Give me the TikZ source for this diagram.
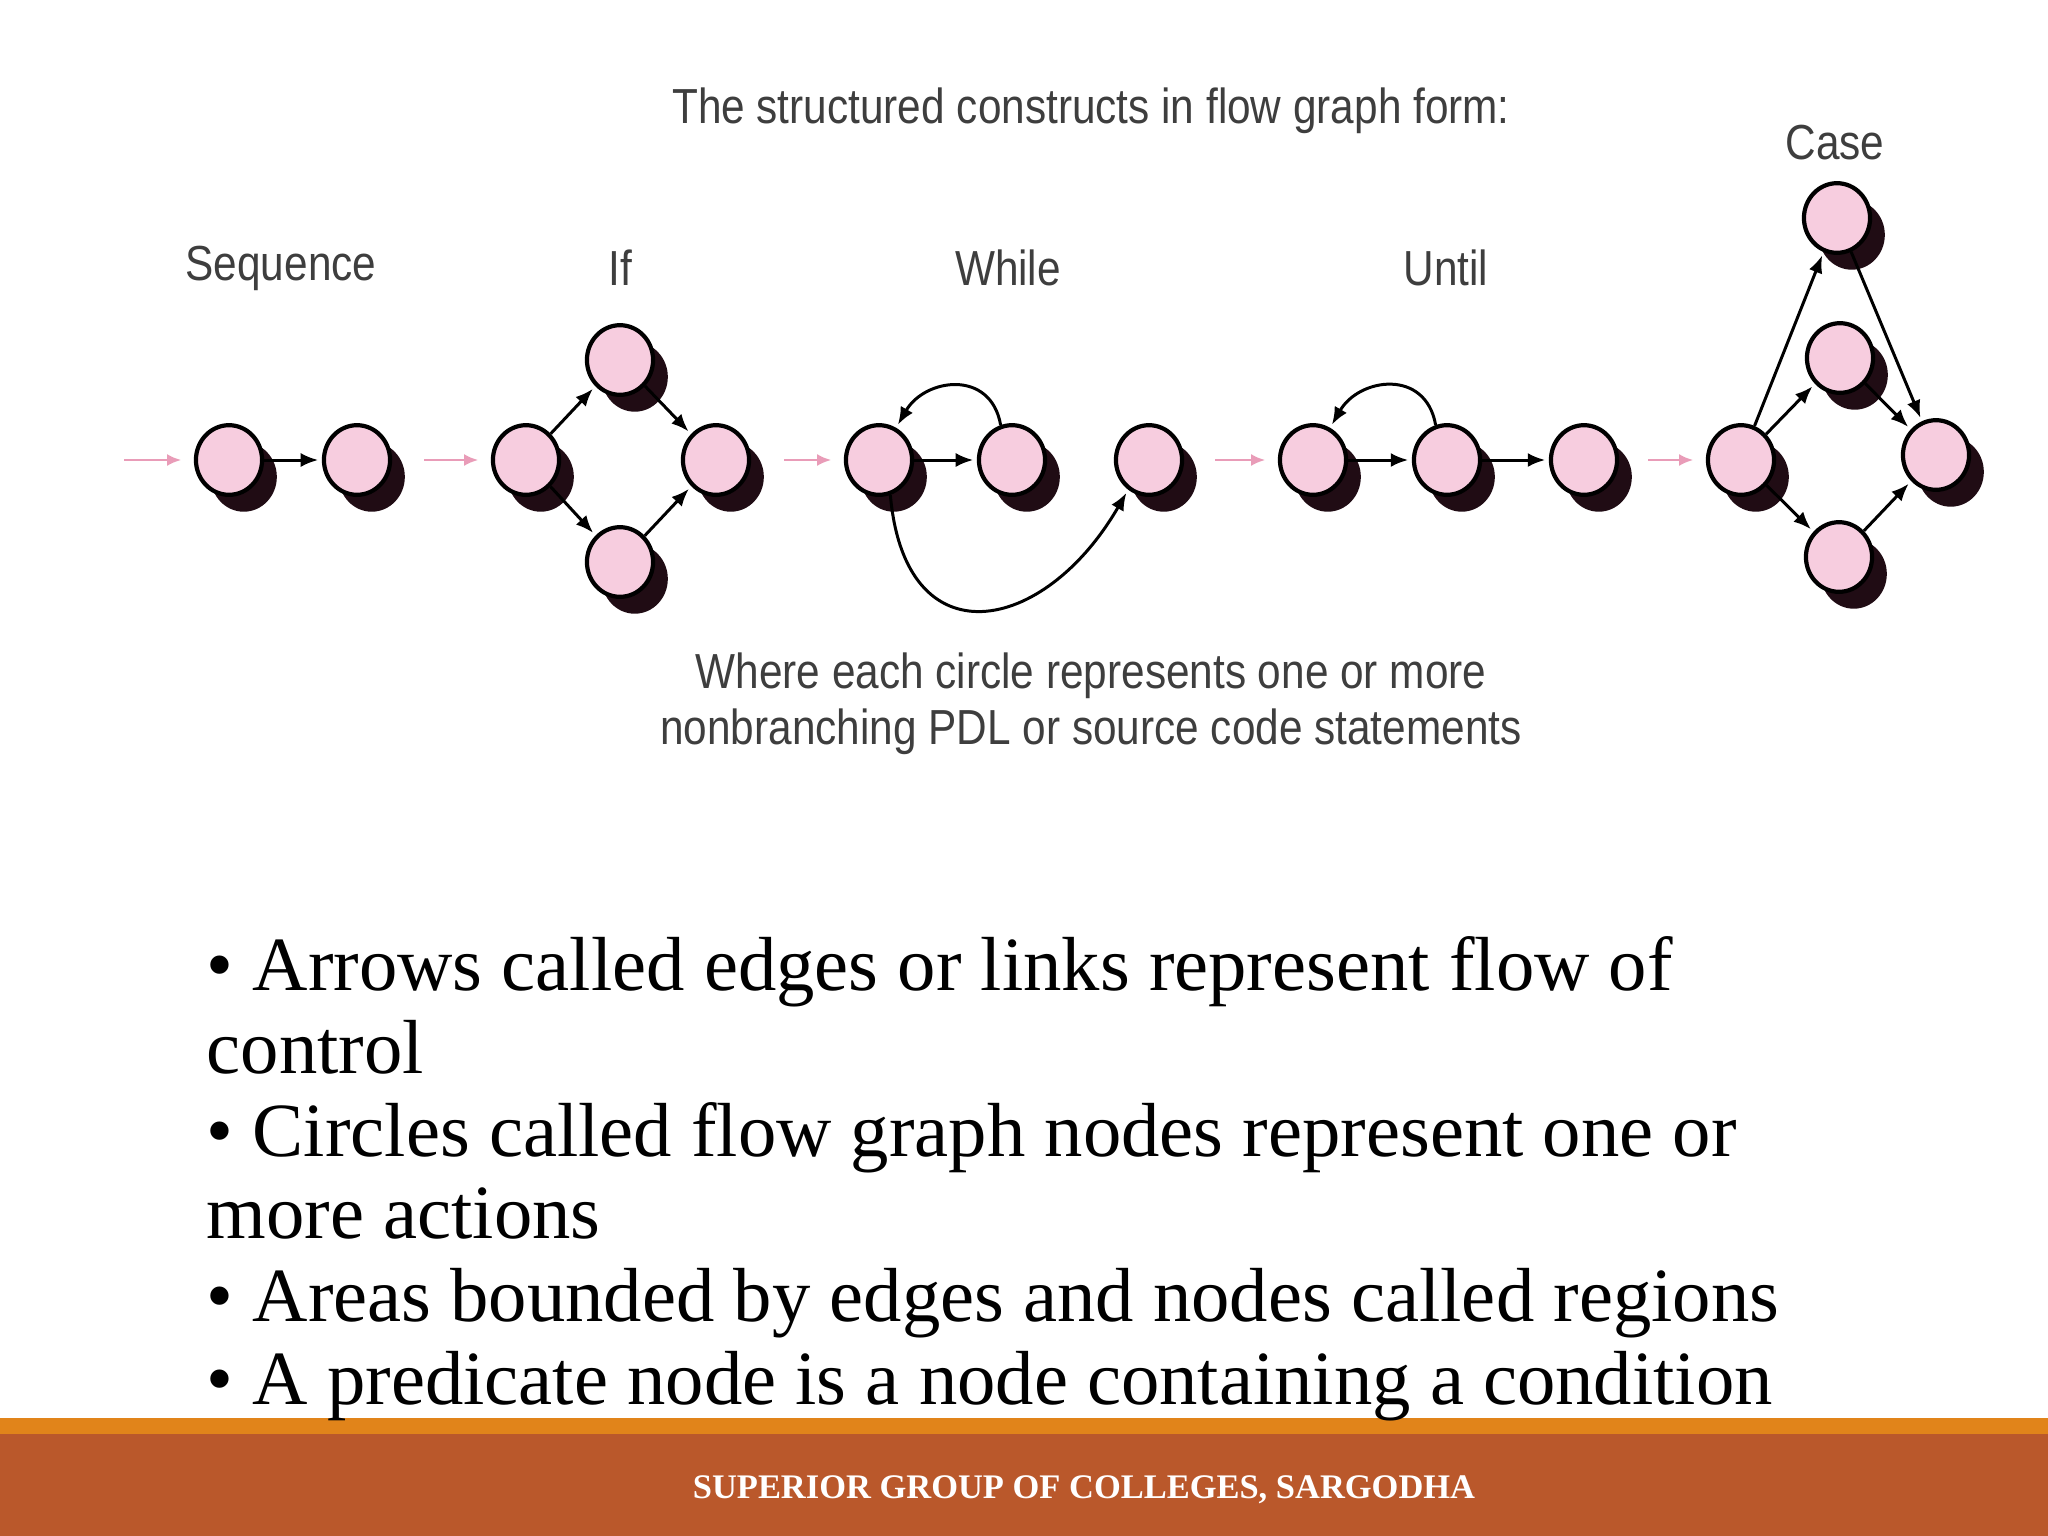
\documentclass[tikz,border=0pt]{standalone}
\usepackage{fontspec}
\setmainfont{Liberation Serif}
\newfontfamily\graphfont[FakeStretch=0.86]{Liberation Sans}
\usetikzlibrary{arrows.meta,shapes.geometric,shadows}
\definecolor{nodepink}{RGB}{247,205,223}
\definecolor{shadowdark}{RGB}{32,12,20}
\definecolor{entrypink}{RGB}{233,156,184}
\definecolor{labelgray}{RGB}{62,62,62}
\definecolor{stripeorange}{RGB}{225,132,26}
\definecolor{footerbrown}{RGB}{186,88,43}
\tikzset{
    flownode/.style={
        ellipse, draw=black, line width=1.2pt, fill=nodepink,
        minimum width=18.8pt, minimum height=19.8pt, inner sep=0pt,
        drop shadow={shadow xshift=4.2pt, shadow yshift=-4.8pt, opacity=1, fill=shadowdark}
    },
    flowedge/.style={
        -{Latex[length=5pt,width=4pt]}, line width=0.85pt, black, shorten >=1pt
    },
    entryarrow/.style={
        -{Latex[length=4pt,width=3.4pt]}, line width=0.7pt, entrypink, shorten >=3.6pt
    },
    graphtext/.style={
        font=\graphfont\fontsize{14}{16}\selectfont, text=labelgray, inner sep=0pt
    }
}
\begin{document}
\begin{tikzpicture}[x=0.01cm, y=-0.01cm]
    \useasboundingbox (0,0) rectangle (2048,1536);
    \fill[white] (0,0) rectangle (2048,1536);
    \fill[stripeorange] (0,1418) rectangle (2048,1434);
    \fill[footerbrown] (0,1434) rectangle (2048,1536);

    \coordinate (inS) at (124,460);
    \coordinate (inI) at (424,460);
    \coordinate (inW) at (784,460);
    \coordinate (inU) at (1215,460);
    \coordinate (inC) at (1648,460);

    \node[flownode] (s1) at (229,460) {};
    \node[flownode] (s2) at (357,460) {};

    \node[flownode] (i1) at (526,460) {};
    \node[flownode] (i2) at (620,360) {};
    \node[flownode] (i3) at (620,562) {};
    \node[flownode] (i4) at (716,460) {};

    \node[flownode] (w1) at (879,460) {};
    \node[flownode] (w2) at (1012,460) {};
    \node[flownode] (w3) at (1149,460) {};

    \node[flownode] (u1) at (1313,460) {};
    \node[flownode] (u2) at (1447,460) {};
    \node[flownode] (u3) at (1584,460) {};

    \node[flownode] (c1) at (1741,460) {};
    \node[flownode] (c2) at (1837,218) {};
    \node[flownode] (c3) at (1840,358) {};
    \node[flownode] (c4) at (1839,557) {};
    \node[flownode] (c5) at (1936,455) {};

    \draw[entryarrow] (inS) -- (s1);
    \draw[entryarrow] (inI) -- (i1);
    \draw[entryarrow] (inW) -- (w1);
    \draw[entryarrow] (inU) -- (u1);
    \draw[entryarrow] (inC) -- (c1);

    \draw[flowedge] (s1) -- (s2);

    \draw[flowedge] (i1) -- (i2);
    \draw[flowedge] (i1) -- (i3);
    \draw[flowedge] (i2) -- (i4);
    \draw[flowedge] (i3) -- (i4);

    \draw[flowedge] (w1) -- (w2);
    \draw[flowedge] (w2.108) to[out=100, in=60, looseness=1.4] (w1.62);
    \draw[flowedge] (w1.-72) to[out=-85, in=-120, looseness=1.8] (w3.-125);

    \draw[flowedge] (u1) -- (u2);
    \draw[flowedge] (u2) -- (u3);
    \draw[flowedge] (u2.108) to[out=100, in=60, looseness=1.4] (u1.62);

    \draw[flowedge] (c1) -- (c2);
    \draw[flowedge] (c1) -- (c3);
    \draw[flowedge] (c1) -- (c4);
    \draw[flowedge] (c2) -- (c5);
    \draw[flowedge] (c3) -- (c5);
    \draw[flowedge] (c4) -- (c5);

    \node[graphtext] (title) at (1091,111) {The structured constructs in flow graph form:};
    \node[graphtext] (seqlabel) at (281,268) {Sequence};
    \node[graphtext] (iflabel) at (620,268) {If};
    \node[graphtext] (whilelabel) at (1008,268) {While};
    \node[graphtext] (untillabel) at (1446,268) {Until};
    \node[graphtext] (caselabel) at (1835,143) {Case};
    \node[graphtext, align=center, font=\graphfont\fontsize{14}{15.9}\selectfont] (note) at (1091,704)
        {Where each circle represents one or more\\nonbranching PDL or source code statements};

    \node[anchor=base west, align=left, inner sep=0pt, font=\fontsize{21.8}{23.5}\selectfont] (bullets) at (206,1404)
        {\textbullet{} Arrows called edges or links represent flow of\\
         control\\
         \textbullet{} Circles called flow graph nodes represent one or\\
         more actions\\
         \textbullet{} Areas bounded by edges and nodes called regions\\
         \textbullet{} A predicate node is a node containing a condition};

    \node[text=white, font=\bfseries\fontsize{9.8}{12}\selectfont] (footer) at (1084,1490)
        {SUPERIOR GROUP OF COLLEGES, SARGODHA};
\end{tikzpicture}
\end{document}
